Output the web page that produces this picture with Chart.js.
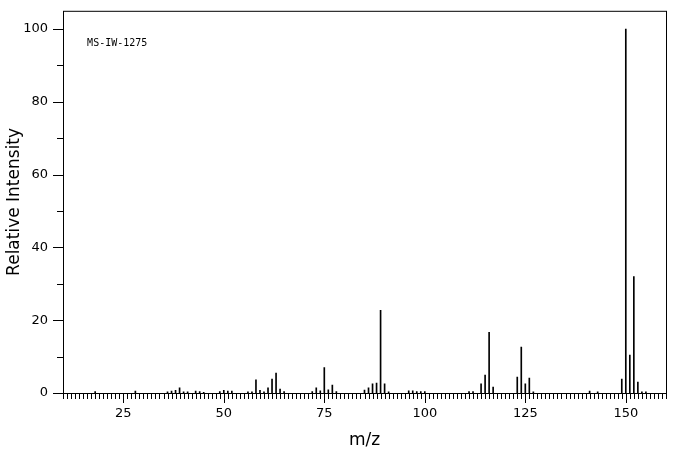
<!DOCTYPE html>
<html><head><meta charset="utf-8">
<script src="https://cdn.jsdelivr.net/npm/chart.js@4"></script>
<style>html,body{margin:0;background:#fff;overflow:hidden}#w{width:676px;height:467px;margin-top:-12px}</style>
</head><body><div id="w"><canvas id="c"></canvas></div>
<script>
const masses = [18,28,36,37,38,39,40,41,43,44,45,49,50,51,52,56,57,58,59,60,61,62,63,64,65,72,73,74,75,76,77,78,85,86,87,88,89,90,91,96,97,98,99,100,111,112,114,115,116,117,123,124,125,126,127,141,143,149,150,151,152,153,154,155];
const intensities = [0.4,0.5,0.3,0.5,0.7,1.4,0.3,0.3,0.5,0.4,0.2,0.4,0.7,0.5,0.5,0.3,0.3,3.6,0.7,0.3,1.4,3.8,5.5,1.1,0.4,0.4,1.4,0.6,7.0,0.9,2.2,0.4,0.8,1.4,2.5,2.7,22.7,2.5,0.3,0.6,0.6,0.4,0.4,0.4,0.4,0.4,2.5,4.9,16.7,1.6,4.4,12.6,2.5,4.1,0.3,0.5,0.3,3.8,100,10.4,32,3.0,0.3,0.3];
const xLabels = [25,50,75,100,125,150];
const yLabels = [0,20,40,60,80,100];
const label = 'MS-IW-1275';

const frame = {
  id:'frame',
  afterDraw(ch){
    const {ctx, chartArea:a, scales:{x,y}} = ch;
    ctx.save(); ctx.strokeStyle='#000'; ctx.lineWidth=1;
    ctx.strokeRect(a.left+0.5,a.top+0.5,a.right-a.left,a.bottom-a.top);
    ctx.beginPath();
    for(let m=10;m<=160;m++){
      const px=Math.round(x.getPixelForValue(m))+0.5;
      const len = m%25===0?10:6;
      ctx.moveTo(px,a.bottom); ctx.lineTo(px,a.bottom+len);
    }
    for(let v=0;v<=100;v+=10){
      const py=Math.round(y.getPixelForValue(v))+0.5;
      const len = v%20===0?10:6;
      ctx.moveTo(a.left,py); ctx.lineTo(a.left-len,py);
    }
    ctx.stroke();
    ctx.font='10px "DejaVu Sans Mono"'; ctx.fillStyle='#000';
    ctx.textBaseline='middle';
    ctx.fillText(label, x.getPixelForValue(16), y.getPixelForValue(96));
    ctx.restore();
  }
};

new Chart(document.getElementById('c'),{
  type:'bar',
  data:{datasets:[{data:masses.map((m,i)=>({x:m,y:intensities[i]})),backgroundColor:'#000',barThickness:1,borderWidth:0}]},
  options:{
    responsive:true,maintainAspectRatio:false,animation:false,
    layout:{padding:{top:0,right:10,left:0,bottom:0}},
    plugins:{legend:{display:false},tooltip:{enabled:false}},
    scales:{
      x:{type:'linear',min:10,max:160,offset:false,
        afterBuildTicks(s){s.ticks=xLabels.map(v=>({value:v}));},
        afterFit(s){s.height=62;},
        grid:{display:false,drawTicks:false},border:{display:false},
        ticks:{padding:13,color:'#000',font:{family:'DejaVu Sans',size:13},maxRotation:0},
        title:{display:true,text:'m/z',color:'#000',font:{family:'DejaVu Sans',size:17},padding:{top:4}}},
      y:{min:0,max:105,
        afterBuildTicks(s){s.ticks=yLabels.map(v=>({value:v}));},
        afterFit(s){s.width=63;},
        grid:{display:false,drawTicks:false},border:{display:false},
        ticks:{padding:15,color:'#000',font:{family:'DejaVu Sans',size:13}},
        title:{display:true,text:'Relative Intensity',color:'#000',font:{family:'DejaVu Sans',size:17},padding:{bottom:0}}}
    }
  },
  plugins:[frame]
});
</script></body></html>
